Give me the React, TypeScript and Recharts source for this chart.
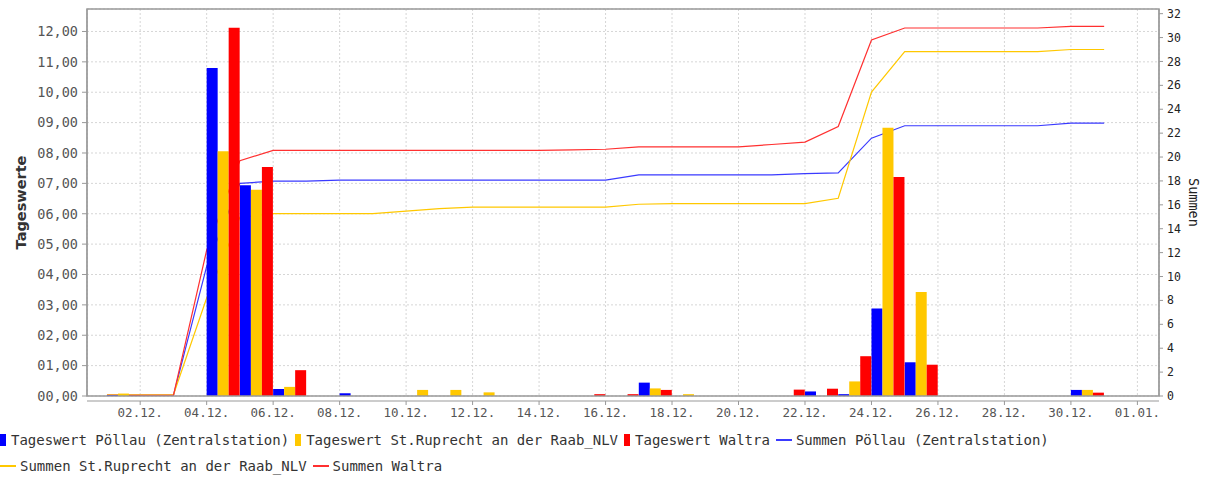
import {
  ComposedChart,
  Bar,
  Line,
  XAxis,
  YAxis,
  CartesianGrid,
  ReferenceArea,
} from "recharts";

// one entry per day, index 0 = 01.12.
const days = [
  "01.12.", "02.12.", "03.12.", "04.12.", "05.12.", "06.12.", "07.12.", "08.12.",
  "09.12.", "10.12.", "11.12.", "12.12.", "13.12.", "14.12.", "15.12.", "16.12.",
  "17.12.", "18.12.", "19.12.", "20.12.", "21.12.", "22.12.", "23.12.", "24.12.",
  "25.12.", "26.12.", "27.12.", "28.12.", "29.12.", "30.12.", "31.12.",
];

const tagPoellau = [
  0.03, 0, 0, 10.8, 6.94, 0.23, 0, 0.09, 0, 0, 0, 0, 0, 0, 0, 0,
  0.44, 0, 0, 0, 0, 0.15, 0.06, 2.88, 1.11, 0, 0, 0, 0, 0.2, 0,
];
const tagRuprecht = [
  0.08, 0, 0, 8.06, 6.79, 0.3, 0, 0, 0, 0.2, 0.2, 0.12, 0, 0, 0, 0,
  0.25, 0.06, 0, 0, 0, 0, 0.48, 8.83, 3.42, 0, 0, 0, 0, 0.2, 0,
];
const tagWaltra = [
  0.03, 0, 0, 12.12, 7.54, 0.85, 0, 0, 0, 0, 0, 0, 0, 0, 0.06, 0.06,
  0.2, 0, 0, 0, 0.21, 0.24, 1.31, 7.21, 1.03, 0, 0, 0, 0, 0.11, 0,
];

const sumPoellau = [
  0.05, 0.05, 0.05, 10.85, 17.8, 17.98, 17.98, 18.06, 18.06, 18.06, 18.06, 18.06,
  18.06, 18.06, 18.06, 18.06, 18.5, 18.5, 18.5, 18.5, 18.5, 18.62, 18.68, 21.58,
  22.62, 22.62, 22.62, 22.62, 22.62, 22.84, 22.84,
];
const sumRuprecht = [
  0.1, 0.1, 0.1, 8.2, 14.95, 15.27, 15.27, 15.27, 15.27, 15.48, 15.68, 15.8,
  15.8, 15.8, 15.8, 15.8, 16.05, 16.1, 16.1, 16.1, 16.1, 16.1, 16.55, 25.43,
  28.82, 28.82, 28.82, 28.82, 28.82, 29.0, 29.0,
];
const sumWaltra = [
  0.05, 0.05, 0.05, 12.2, 19.7, 20.55, 20.55, 20.55, 20.55, 20.55, 20.55, 20.55,
  20.55, 20.55, 20.6, 20.65, 20.85, 20.85, 20.85, 20.85, 21.05, 21.25, 22.55, 29.8,
  30.8, 30.8, 30.8, 30.8, 30.8, 30.93, 30.93,
];

const xTickDays = [1, 3, 5, 7, 9, 11, 13, 15, 17, 19, 21, 23, 25, 27, 29, 31];
const xTickLabels = [
  "02.12.", "04.12.", "06.12.", "08.12.", "10.12.", "12.12.", "14.12.", "16.12.",
  "18.12.", "20.12.", "22.12.", "24.12.", "26.12.", "28.12.", "30.12.", "01.01.",
];
const leftTicks = [0, 1, 2, 3, 4, 5, 6, 7, 8, 9, 10, 11, 12];
const rightTicks = [0, 2, 4, 6, 8, 10, 12, 14, 16, 18, 20, 22, 24, 26, 28, 30, 32];

const BLUE = "#0000ff";
const YELLOW = "#ffc800";
const RED = "#ff0000";

const legendItems = [
  { name: "Tageswert Pöllau (Zentralstation)", color: BLUE, kind: "bar" },
  { name: "Tageswert St.Ruprecht an der Raab_NLV", color: YELLOW, kind: "bar" },
  { name: "Tageswert Waltra", color: RED, kind: "bar" },
  { name: "Summen Pöllau (Zentralstation)", color: "#3a3aff", kind: "line" },
  { name: "Summen St.Ruprecht an der Raab_NLV", color: YELLOW, kind: "line" },
  { name: "Summen Waltra", color: "#ff3030", kind: "line" },
];

const data = days.map((label, i) => ({
  label,
  d: i,
  tp: tagPoellau[i],
  tr: tagRuprecht[i],
  tw: tagWaltra[i],
  sp: sumPoellau[i],
  sr: sumRuprecht[i],
  sw: sumWaltra[i],
}));

const W = 1215;
const H = 425;
const PLOT_W = 1159 - 87;
const X_MIN = -0.6;
const X_MAX = 31.65;
const PX_DAY = PLOT_W / (X_MAX - X_MIN);
const Y_LEFT_MAX = 12.74;
const Y_RIGHT_MAX = 32.39;

const mono = "'DejaVu Sans Mono', monospace";

const fmtLeft = (v: number) =>
  (v < 10 ? "0" : "") + v.toFixed(2).replace(".", ",");

const LeftLabel = ({ viewBox }: any) => {
  const x = viewBox.x + 17;
  const y = viewBox.y + viewBox.height / 2;
  return (
    <text
      x={x}
      y={y}
      transform={`rotate(-90, ${x}, ${y})`}
      textAnchor="middle"
      dominantBaseline="central"
      fontFamily="'DejaVu Sans', sans-serif"
      fontWeight="bold"
      fontSize={14.5}
      fill="#333"
    >
      Tageswerte
    </text>
  );
};

const RightLabel = ({ viewBox }: any) => {
  const x = viewBox.x + 35;
  const y = viewBox.y + viewBox.height / 2;
  return (
    <text
      x={x}
      y={y}
      transform={`rotate(90, ${x}, ${y})`}
      textAnchor="middle"
      dominantBaseline="central"
      fontFamily={mono}
      fontSize={13.5}
      fill="#222"
    >
      Summen
    </text>
  );
};

const ChartLegend = () => (
  <div
    style={{
      position: "absolute",
      left: 0,
      top: 427,
      width: W,
      display: "flex",
      flexWrap: "wrap",
      fontFamily: mono,
      fontSize: 14,
      color: "#333",
    }}
  >
    {legendItems.map((it) => (
      <div
        key={it.name}
        style={{ display: "flex", alignItems: "center", height: 26, marginRight: 6 }}
      >
        {it.kind === "bar" ? (
          <span style={{ width: 6, height: 12, background: it.color, marginRight: 5 }} />
        ) : (
          <span style={{ width: 16, height: 1.5, background: it.color, marginRight: 4 }} />
        )}
        <span style={{ whiteSpace: "pre" }}>{it.name}</span>
      </div>
    ))}
  </div>
);

export default function App() {
  return (
    <div style={{ position: "absolute", left: 0, top: 0, width: W, height: 477, background: "#fff" }}>
      <ComposedChart
        width={W}
        height={H}
        data={data}
        margin={{ top: 9, right: 0, bottom: 0, left: 0 }}
        barCategoryGap={0}
        barGap={0}
      >
        <CartesianGrid
          xAxisId="num"
          yAxisId="left"
          stroke="#d6d6d6"
          strokeDasharray="2 2"
        />
        <XAxis
          xAxisId="cat"
          dataKey="label"
          type="category"
          scale="band"
          height={5}
          tick={false}
          tickLine={false}
          axisLine={false}
          padding={{ left: -X_MIN * PX_DAY, right: (X_MAX - 31) * PX_DAY }}
        />
        <XAxis
          xAxisId="num"
          dataKey="d"
          type="number"
          domain={[X_MIN, X_MAX]}
          allowDataOverflow
          ticks={xTickDays}
          interval={0}
          tickFormatter={(v: number) => xTickLabels[xTickDays.indexOf(v)]}
          height={24}
          tickSize={4}
          tickMargin={3}
          stroke="#999"
          tick={{ fontFamily: mono, fontSize: 12.5, fill: "#555" }}
        />
        <YAxis
          yAxisId="spL"
          orientation="left"
          width={4}
          domain={[0, 1]}
          tick={false}
          tickLine={false}
          axisLine={false}
        />
        <YAxis
          yAxisId="left"
          orientation="left"
          width={83}
          domain={[0, Y_LEFT_MAX]}
          allowDataOverflow
          ticks={leftTicks}
          interval={0}
          tickFormatter={fmtLeft}
          tickSize={5}
          tickMargin={4}
          stroke="#999"
          tick={{ fontFamily: mono, fontSize: 13.5, fill: "#555" }}
          label={<LeftLabel />}
        />
        <YAxis
          yAxisId="spR"
          orientation="right"
          width={4}
          domain={[0, 1]}
          tick={false}
          tickLine={false}
          axisLine={false}
        />
        <YAxis
          yAxisId="right"
          orientation="right"
          width={52}
          domain={[0, Y_RIGHT_MAX]}
          allowDataOverflow
          ticks={rightTicks}
          interval={0}
          tickSize={4}
          tickMargin={4}
          stroke="#999"
          tick={{ fontFamily: mono, fontSize: 11.5, fill: "#222" }}
          label={<RightLabel />}
        />
        <Line
          xAxisId="num"
          yAxisId="right"
          dataKey="sp"
          stroke="#3a3aff"
          strokeWidth={1.2}
          dot={false}
          isAnimationActive={false}
          zIndex={250}
        />
        <Line
          xAxisId="num"
          yAxisId="right"
          dataKey="sr"
          stroke={YELLOW}
          strokeWidth={1.2}
          dot={false}
          isAnimationActive={false}
          zIndex={250}
        />
        <Line
          xAxisId="num"
          yAxisId="right"
          dataKey="sw"
          stroke="#ff3030"
          strokeWidth={1.2}
          dot={false}
          isAnimationActive={false}
          zIndex={250}
        />
        <Bar xAxisId="cat" yAxisId="left" dataKey="tp" fill={BLUE} isAnimationActive={false} />
        <Bar xAxisId="cat" yAxisId="left" dataKey="tr" fill={YELLOW} isAnimationActive={false} />
        <Bar xAxisId="cat" yAxisId="left" dataKey="tw" fill={RED} isAnimationActive={false} />
        <ReferenceArea
          xAxisId="num"
          yAxisId="left"
          x1={X_MIN}
          x2={X_MAX}
          y1={0}
          y2={Y_LEFT_MAX}
          fill="none"
          fillOpacity={0}
          stroke="#999"
          strokeWidth={1.5}
          ifOverflow="visible"
          zIndex={450}
        />
      </ComposedChart>
      <ChartLegend />
    </div>
  );
}
